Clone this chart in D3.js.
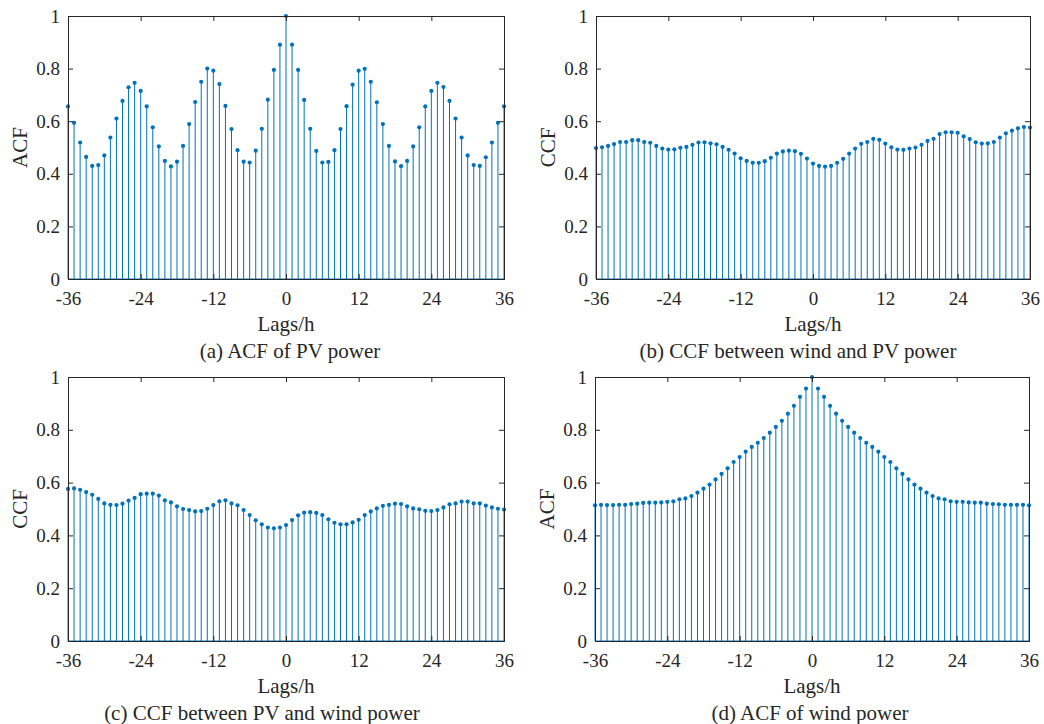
<!DOCTYPE html>
<html>
<head>
<meta charset="utf-8">
<script src="https://cdn.jsdelivr.net/npm/d3@7/dist/d3.min.js"></script>
<style>
  html, body { margin: 0; padding: 0; background: #fff; }
  svg { display: block; }
  text { font-family: "Palatino Linotype", "Book Antiqua", Palatino, "Liberation Serif", serif; fill: #262626; }
</style>
</head>
<body>
<div id="chart"></div>
<script>
// lags -36 .. 36 (hours)
const lags = d3.range(-36, 37);
const xTicks = [-36, -24, -12, 0, 12, 24, 36];
const yTicks = [0, 0.2, 0.4, 0.6, 0.8, 1];

// (a) ACF of PV power
const acfPV = [
    0.656, 0.594, 0.519, 0.464, 0.430, 0.433, 0.470, 0.538, 0.610, 0.677, 0.729, 0.746,
    0.715, 0.656, 0.577, 0.504, 0.449, 0.428, 0.446, 0.506, 0.589, 0.673, 0.750, 0.800,
    0.792, 0.741, 0.658, 0.570, 0.490, 0.446, 0.443, 0.488, 0.571, 0.682, 0.795, 0.891,
    1.000,
    0.891, 0.795, 0.681, 0.571, 0.487, 0.443, 0.445, 0.490, 0.570, 0.657, 0.739, 0.792,
    0.799, 0.750, 0.672, 0.589, 0.506, 0.447, 0.429, 0.449, 0.504, 0.577, 0.656, 0.715,
    0.746, 0.730, 0.677, 0.610, 0.538, 0.470, 0.433, 0.430, 0.463, 0.519, 0.594, 0.656
];

// (b) CCF between wind and PV power
const ccfWindPV = [
    0.498, 0.501, 0.506, 0.513, 0.521, 0.521, 0.528, 0.528, 0.521, 0.518, 0.506, 0.496,
    0.492, 0.493, 0.499, 0.502, 0.510, 0.519, 0.520, 0.516, 0.512, 0.502, 0.491, 0.477,
    0.459, 0.449, 0.442, 0.442, 0.448, 0.461, 0.477, 0.485, 0.488, 0.486, 0.476, 0.458,
    0.439,
    0.430, 0.427, 0.430, 0.442, 0.457, 0.477, 0.496, 0.514, 0.521, 0.533, 0.529, 0.515,
    0.501, 0.492, 0.491, 0.496, 0.500, 0.510, 0.525, 0.533, 0.551, 0.558, 0.558, 0.556,
    0.542, 0.532, 0.520, 0.515, 0.516, 0.521, 0.538, 0.554, 0.564, 0.573, 0.578, 0.576
];

// (c) CCF between PV and wind power
const ccfPVWind = [
    0.576, 0.578, 0.573, 0.564, 0.554, 0.538, 0.521, 0.516, 0.515, 0.520, 0.532, 0.542,
    0.556, 0.558, 0.558, 0.551, 0.533, 0.525, 0.510, 0.500, 0.496, 0.491, 0.492, 0.501,
    0.515, 0.529, 0.533, 0.521, 0.514, 0.496, 0.477, 0.457, 0.442, 0.430, 0.427, 0.430,
    0.439,
    0.458, 0.476, 0.486, 0.488, 0.485, 0.477, 0.461, 0.448, 0.442, 0.442, 0.449, 0.459,
    0.477, 0.491, 0.502, 0.512, 0.516, 0.520, 0.519, 0.510, 0.502, 0.499, 0.493, 0.492,
    0.496, 0.506, 0.518, 0.521, 0.528, 0.528, 0.521, 0.521, 0.513, 0.506, 0.501, 0.498
];

// (d) ACF of wind power
const acfWind = [
    0.514, 0.516, 0.515, 0.515, 0.516, 0.516, 0.519, 0.520, 0.523, 0.524, 0.524, 0.525,
    0.527, 0.529, 0.537, 0.540, 0.549, 0.562, 0.577, 0.592, 0.612, 0.633, 0.654, 0.678,
    0.697, 0.717, 0.735, 0.751, 0.769, 0.789, 0.811, 0.834, 0.861, 0.891, 0.925, 0.956,
    1.000,
    0.956, 0.925, 0.891, 0.861, 0.834, 0.811, 0.789, 0.769, 0.751, 0.735, 0.717, 0.697,
    0.678, 0.654, 0.633, 0.612, 0.592, 0.577, 0.562, 0.549, 0.540, 0.537, 0.529, 0.527,
    0.527, 0.525, 0.524, 0.524, 0.520, 0.519, 0.518, 0.516, 0.516, 0.516, 0.516, 0.514
];

const width = 1044, height = 724;
const stemColor = "#0072BD";
const axisColor = "#262626";
const serif = "'Palatino Linotype', 'Book Antiqua', Palatino, 'Liberation Serif', serif";

const panels = [
    { values: acfPV,     ylabel: "ACF", caption: "(a) ACF of PV power",                 box: [68, 504, 16, 279],  capX: 290 },
    { values: ccfWindPV, ylabel: "CCF", caption: "(b) CCF between wind and PV power",   box: [596, 1030, 16, 279], capX: 798 },
    { values: ccfPVWind, ylabel: "CCF", caption: "(c) CCF between PV and wind power",   box: [68, 504, 377, 641], capX: 262 },
    { values: acfWind,   ylabel: "ACF", caption: "(d) ACF of wind power",               box: [595, 1029, 377, 641], capX: 810 }
];

const svg = d3.select("#chart").append("svg")
    .attr("width", width)
    .attr("height", height);

panels.forEach(p => {
    const [x0, x1, y0, y1] = p.box;
    const x = d3.scaleLinear().domain([-36, 36]).range([x0, x1]);
    const y = d3.scaleLinear().domain([0, 1]).range([y1, y0]);
    const g = svg.append("g");

    // stems
    g.selectAll("line.stem")
        .data(lags)
        .enter()
        .append("line")
        .attr("class", "stem")
        .attr("x1", d => x(d)).attr("x2", d => x(d))
        .attr("y1", y(0))
        .attr("y2", (d, i) => y(p.values[i]))
        .attr("stroke", stemColor)
        .attr("stroke-width", 1);

    // baseline
    g.append("line")
        .attr("x1", x(-36)).attr("x2", x(36))
        .attr("y1", y(0)).attr("y2", y(0))
        .attr("stroke", stemColor);

    // markers
    g.selectAll("circle")
        .data(lags)
        .enter()
        .append("circle")
        .attr("cx", d => x(d))
        .attr("cy", (d, i) => y(p.values[i]))
        .attr("r", 2.1)
        .attr("fill", stemColor);

    // box axes, ticks inward on all sides
    const bottom = d3.axisBottom(x).tickValues(xTicks).tickSize(-5).tickPadding(13).tickFormat(d3.format("d"));
    const top = d3.axisTop(x).tickValues(xTicks).tickSize(-5).tickFormat("");
    const left = d3.axisLeft(y).tickValues(yTicks).tickSize(-5).tickPadding(8).tickFormat(d => d === 0 || d === 1 ? d3.format("d")(d) : d3.format(".1f")(d));
    const right = d3.axisRight(y).tickValues(yTicks).tickSize(-5).tickFormat("");

    [
        g.append("g").attr("transform", `translate(0,${y1})`).call(bottom),
        g.append("g").attr("transform", `translate(0,${y0})`).call(top),
        g.append("g").attr("transform", `translate(${x0},0)`).call(left),
        g.append("g").attr("transform", `translate(${x1},0)`).call(right)
    ].forEach(ax => {
        ax.attr("font-family", serif).attr("font-size", 19);
        ax.select(".domain").attr("stroke", axisColor).attr("stroke-width", 1);
        ax.selectAll(".tick line").attr("stroke", axisColor);
        ax.selectAll(".tick text")
            .style("font-family", serif)
            .style("font-size", "19px")
            .attr("fill", axisColor)
            .text(function() { return d3.select(this).text().replace("\u2212", "-"); });
    });

    // axis labels
    g.append("text")
        .attr("x", (x0 + x1) / 2)
        .attr("y", y1 + 52)
        .attr("text-anchor", "middle")
        .attr("font-size", "21px")
        .text("Lags/h");

    g.append("text")
        .attr("transform", `translate(${x0 - 41},${(y0 + y1) / 2}) rotate(-90)`)
        .attr("text-anchor", "middle")
        .attr("font-size", "21px")
        .text(p.ylabel);

    g.append("text")
        .attr("x", p.capX)
        .attr("y", y1 + 79)
        .attr("text-anchor", "middle")
        .attr("font-size", "21px")
        .text(p.caption);
});
</script>
</body>
</html>
